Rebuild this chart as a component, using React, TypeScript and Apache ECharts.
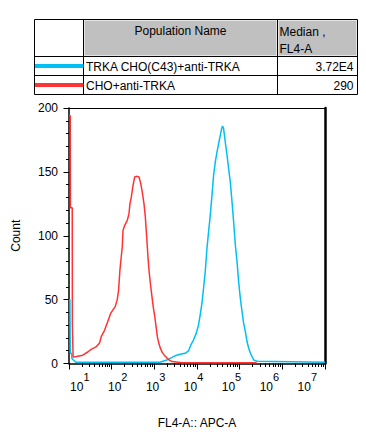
import React, { useEffect, useRef } from "react";
import * as echarts from "echarts";

// ---- data ----
const populationNames = ["TRKA CHO(C43)+anti-TRKA", "CHO+anti-TRKA"];
const medianValues = ["3.72E4", "290"];
const seriesColors = ["#00bff2", "#ff3333"];
const tableHeaders = ["Population Name", "Median ,", "FL4-A"];

const decadeExponents = [1, 2, 3, 4, 5, 6, 7];
const minorMultipliers = [2, 3, 4, 5, 6, 7, 8, 9];
const yTickValues = [0, 50, 100, 150, 200];

const blueX = [10, 10.5, 10.7, 11.5, 11.7, 12.5, 14.4, 1361, 1959, 2339, 3069, 4027, 5272, 6310, 7178, 8279, 9572, 10839, 11885, 13032, 14223, 15596, 17100, 18664, 20464, 22439, 24434, 26792, 29376, 32063, 35156, 37670, 39811, 42073, 46132, 50582, 55081, 60395, 66222, 72277, 79250, 86896, 94624, 103753, 113763, 124165, 136144, 149279, 162930, 178649, 195884, 213304, 256448, 10000000];
const blueY = [50, 50, 8, 8, 4, 3, 1, 1, 2.7, 4, 6, 7.2, 8, 9.8, 14.5, 18.4, 23.6, 30, 38, 47, 58.7, 71.7, 90, 103, 116, 131.6, 147, 157.7, 165.5, 172, 178.5, 183.7, 186, 183.7, 173, 163, 152.5, 142, 126.4, 110.8, 92.6, 79.5, 63.9, 51, 40.5, 31.4, 24.8, 17, 11.9, 8, 5.3, 2.7, 1.8, 1];

const redX = [10, 10.7, 10.8, 11.9, 12, 12.3, 12.5, 15, 21, 27.5, 33, 43, 52, 57, 68, 81.5, 94, 107, 121, 135, 145, 156, 167, 177, 184, 201, 232, 254, 268, 288, 315, 346, 392, 437, 479, 514, 573, 614, 662, 711, 750, 805, 883, 946, 1021, 1096, 1178, 1271, 1384, 1542, 1758, 2023, 2301, 2630, 3610, 4470, 250000];
const redY = [194, 194, 122, 122, 30, 30, 5, 5.5, 6.5, 9, 11, 13, 16, 21, 26, 33, 39, 42, 44.5, 50, 57, 73, 83, 91, 104, 108, 112, 117, 125, 130, 139, 146, 146.5, 146, 141, 135.5, 125, 115, 99, 83, 73, 63, 52, 44, 37, 29, 21, 16, 12, 8.5, 6, 4, 2.5, 1.5, 1, 0.5, 0.5];

const FONT = "'Liberation Sans', Arial, sans-serif";

export default function App() {
  const ref = useRef<HTMLDivElement>(null);
  useEffect(() => {
    if (!ref.current) return;
    const chart = echarts.init(ref.current, null, { renderer: "svg" });

    const minDec = decadeExponents[0];
    const maxDec = decadeExponents[decadeExponents.length - 1];
    const minorTickExps: number[] = [];
    decadeExponents.slice(0, -1).forEach((e) =>
      minorMultipliers.forEach((m) => minorTickExps.push(e + Math.log10(m)))
    );

    const blueData = blueX.map((x, i) => [x, blueY[i]]);
    const redData = redX.map((x, i) => [x, redY[i]]);

    const tL = 34.5, tR = 357.5, tT = 19.5, tB = 94.5;
    const c1 = 83.5, c2 = 277.5, r1 = 56.5, r2 = 75.5;
    const rowMid = [66.5, 85.5];

    const graphics: any[] = [
      { type: "rect", shape: { x: c1 + 1, y: tT + 1, width: c2 - c1 - 2, height: r1 - tT - 2 }, style: { fill: "#c0c0c0", stroke: "#e4e4e4", lineWidth: 1 } },
      { type: "rect", shape: { x: c2 + 1, y: tT + 1, width: tR - c2 - 2, height: r1 - tT - 2 }, style: { fill: "#c0c0c0", stroke: "#e4e4e4", lineWidth: 1 } },
      { type: "rect", shape: { x: tL, y: tT, width: tR - tL, height: tB - tT }, style: { fill: "none", stroke: "#000", lineWidth: 1 } },
      { type: "line", shape: { x1: c1, y1: tT, x2: c1, y2: tB }, style: { stroke: "#000", lineWidth: 1 } },
      { type: "line", shape: { x1: c2, y1: tT, x2: c2, y2: tB }, style: { stroke: "#000", lineWidth: 1 } },
      { type: "line", shape: { x1: tL, y1: r1, x2: tR, y2: r1 }, style: { stroke: "#000", lineWidth: 1 } },
      { type: "line", shape: { x1: tL, y1: r2, x2: tR, y2: r2 }, style: { stroke: "#000", lineWidth: 1 } },
      { type: "text", x: (c1 + c2) / 2, y: 31, style: { text: tableHeaders[0], fill: "#000", font: `12px ${FONT}`, align: "center", verticalAlign: "middle" } },
      { type: "text", x: c2 + 2, y: 31.5, style: { text: tableHeaders[1], fill: "#000", font: `12px ${FONT}`, align: "left", verticalAlign: "middle" } },
      { type: "text", x: c2 + 2, y: 49, style: { text: tableHeaders[2], fill: "#000", font: `12px ${FONT}`, align: "left", verticalAlign: "middle" } },
    ];
    populationNames.forEach((name, i) => {
      graphics.push({ type: "line", shape: { x1: tL + 0.5, y1: rowMid[i] - 0.5, x2: c1, y2: rowMid[i] - 0.5 }, style: { stroke: seriesColors[i], lineWidth: 4 } });
      graphics.push({ type: "text", x: c1 + 2.5, y: rowMid[i], style: { text: name, fill: "#000", font: `12px ${FONT}`, align: "left", verticalAlign: "middle" } });
      graphics.push({ type: "text", x: tR - 4, y: rowMid[i], style: { text: medianValues[i], fill: "#000", font: `12px ${FONT}`, align: "right", verticalAlign: "middle" } });
    });

    const hidden = { axisLine: { show: false }, axisTick: { show: false }, axisLabel: { show: false }, splitLine: { show: false } };
    // decade labels sit on their own slightly compressed scale, as in the reference
    const labelMin = 0.62, labelMax = 7.37;

    chart.setOption({
      animation: false,
      backgroundColor: "#ffffff",
      textStyle: { fontFamily: FONT },
      grid: { left: 69, top: 108, width: 256, height: 255.5, containLabel: false },
      xAxis: [
        {
          type: "log", logBase: 10, min: Math.pow(10, minDec), max: Math.pow(10, maxDec), position: "bottom",
          ...hidden,
          axisLine: { show: true, lineStyle: { color: "#000", width: 1.5 } },
        },
        {
          type: "value", min: minDec, max: maxDec, position: "bottom",
          ...hidden,
          axisTick: { show: true, length: 6, customValues: decadeExponents, lineStyle: { color: "#000", width: 1 } },
        },
        {
          type: "value", min: minDec, max: maxDec, position: "bottom",
          ...hidden,
          axisTick: { show: true, length: 3.5, customValues: minorTickExps, lineStyle: { color: "#000", width: 1 } },
        },
        {
          type: "value", min: labelMin, max: labelMax, position: "bottom",
          axisLine: { show: false }, axisTick: { show: false }, splitLine: { show: false },
          axisLabel: {
            show: true, margin: 17.5, customValues: decadeExponents, align: "right",
            formatter: () => "10", fontSize: 12, color: "#000", fontFamily: FONT,
          },
          name: "FL4-A:: APC-A", nameLocation: "middle", nameGap: 53,
          nameTextStyle: { fontSize: 12, color: "#000", fontFamily: FONT },
        },
        {
          type: "value", min: labelMin, max: labelMax, position: "bottom",
          axisLine: { show: false }, axisTick: { show: false }, splitLine: { show: false },
          axisLabel: {
            show: true, margin: 8, customValues: decadeExponents, align: "left",
            formatter: (v: number) => String(v), fontSize: 11, color: "#000", fontFamily: FONT,
          },
        },
        { type: "value", min: 0, max: 1, position: "top", ...hidden, axisLine: { show: true, lineStyle: { color: "#000", width: 1 } } },
      ],
      yAxis: [
        {
          type: "value", min: 0, max: 200, interval: 50, position: "left",
          axisLine: { show: true, lineStyle: { color: "#000", width: 1.5 } },
          axisTick: { show: true, length: 5.5, customValues: yTickValues, lineStyle: { color: "#000", width: 1 } },
          minorTick: { show: true, splitNumber: 5, length: 3, lineStyle: { color: "#000", width: 1 } },
          axisLabel: { fontSize: 12, color: "#000", margin: 11, fontFamily: FONT },
          splitLine: { show: false },
          name: "Count", nameLocation: "middle", nameGap: 47,
          nameTextStyle: { fontSize: 12, color: "#000", fontFamily: FONT },
        },
        { type: "value", min: 0, max: 200, position: "right", ...hidden, axisLine: { show: true, lineStyle: { color: "#000", width: 2.5 } } },
      ],
      series: [
        { name: populationNames[0], type: "line", xAxisIndex: 0, yAxisIndex: 0, data: blueData, showSymbol: false, lineStyle: { color: seriesColors[0], width: 1.5 }, itemStyle: { color: seriesColors[0] } },
        { name: populationNames[1], type: "line", xAxisIndex: 0, yAxisIndex: 0, data: redData, showSymbol: false, lineStyle: { color: seriesColors[1], width: 1.5 }, itemStyle: { color: seriesColors[1] } },
      ],
      graphic: graphics,
    });
    return () => chart.dispose();
  }, []);

  return (
    <div
      ref={ref}
      style={{ position: "fixed", left: 0, top: 0, width: 366, height: 439, background: "#fff" }}
    />
  );
}
